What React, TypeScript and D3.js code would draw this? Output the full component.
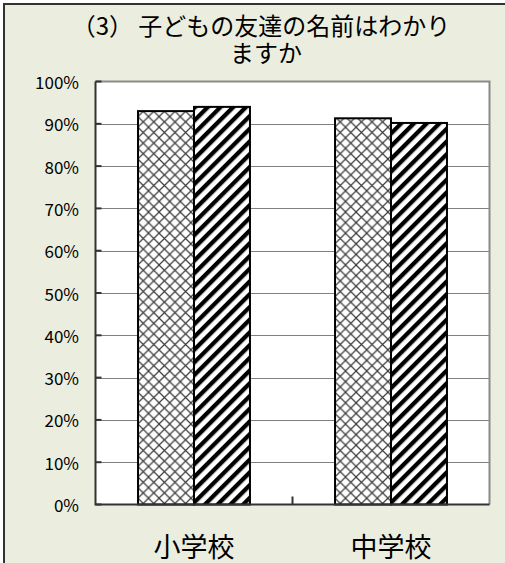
import React from 'react';
import * as d3 from 'd3';

const categories = ['小学校', '中学校'];
const seriesNames = ['A', 'B'];
const seriesA = [93, 91.3];
const seriesB = [94, 90.2];
const yTicks = [0, 10, 20, 30, 40, 50, 60, 70, 80, 90, 100];
const titleLines = ['（3） 子どもの友達の名前はわかり', 'ますか'];

const W = 505;
const H = 563;
const plot = { left: 95.5, right: 489.5, top: 81.5, bottom: 504.5 };
const BG = '#EBEEDF';
const JP = '"Noto Sans CJK JP", "Noto Sans", sans-serif';

export default function App() {
  const x = d3.scaleBand<string>()
    .domain(categories)
    .range([plot.left, plot.right])
    .paddingInner(0)
    .paddingOuter(0);

  // two bars of ~56px centred in each category slot
  const inner = d3.scaleBand<string>()
    .domain(seriesNames)
    .range([0, x.bandwidth()])
    .paddingOuter(0.76)
    .paddingInner(0);

  const y = d3.scaleLinear().domain([0, 100]).range([plot.bottom, plot.top]);

  const rows = categories.map((c, i) => ({ cat: c, values: [seriesA[i], seriesB[i]] }));
  const fills = ['url(#cross)', 'url(#diag)'];

  return (
    <svg
      width={W}
      height={H}
      viewBox={`0 0 ${W} ${H}`}
      style={{ position: 'absolute', left: 0, top: 0 }}
    >
      <defs>
        <pattern id="cross" width={10.6} height={10.6} patternUnits="userSpaceOnUse">
          <rect width={10.6} height={10.6} fill="#fff" />
          <path d="M0,0L10.6,10.6M0,10.6L10.6,0" stroke="#3a3a3a" strokeWidth={1.2} />
        </pattern>
        <pattern
          id="diag"
          width={9}
          height={9}
          patternUnits="userSpaceOnUse"
          patternTransform="rotate(45)"
        >
          <rect width={9} height={9} fill="#fff" />
          <rect width={4.3} height={9} fill="#000" />
        </pattern>
      </defs>

      <rect x={0} y={0} width={W} height={H} fill="#fff" />
      <rect x={4} y={4} width={W + 10} height={H + 10} fill={BG} stroke="#333" strokeWidth={2} />

      <text x={261} y={35} fontFamily={JP} fontSize={24} textAnchor="middle" fill="#000">
        {titleLines[0]}
      </text>
      <text x={266} y={62} fontFamily={JP} fontSize={24} textAnchor="middle" fill="#000">
        {titleLines[1]}
      </text>

      <rect
        x={plot.left}
        y={plot.top}
        width={plot.right - plot.left}
        height={plot.bottom - plot.top}
        fill="#fff"
      />

      {yTicks.slice(1, -1).map((t) => (
        <line
          key={t}
          x1={plot.left}
          x2={plot.right}
          y1={Math.round(y(t)) + 0.5}
          y2={Math.round(y(t)) + 0.5}
          stroke="#808080"
          strokeWidth={1}
        />
      ))}

      {/* frame: top/right gray, left/bottom dark */}
      <path
        d={`M${plot.left},${plot.top}H${plot.right}V${plot.bottom}`}
        fill="none"
        stroke="#8a8a8a"
        strokeWidth={2}
      />

      {rows.map((r) => (
        <g key={r.cat} transform={`translate(${x(r.cat)},0)`}>
          {r.values.map((v, j) => (
            <rect
              key={j}
              x={inner(seriesNames[j])}
              y={y(v)}
              width={inner.bandwidth()}
              height={y(0) - y(v)}
              fill={fills[j]}
              stroke="#000"
              strokeWidth={2}
            />
          ))}
        </g>
      ))}

      <path
        d={`M${plot.left},${plot.top}V${plot.bottom}H${plot.right}`}
        fill="none"
        stroke="#333"
        strokeWidth={2}
      />

      {yTicks.map((t) => (
        <g key={t}>
          <line x1={plot.left} x2={plot.left + 6} y1={y(t)} y2={y(t)} stroke="#333" strokeWidth={2} />
          <text
            x={79}
            y={y(t)}
            textAnchor="end"
            dominantBaseline="central"
            fontFamily={JP}
            fontSize={17}
            fill="#000"
          >
            {`${t}%`}
          </text>
        </g>
      ))}

      {categories.slice(1).map((c) => (
        <line
          key={c}
          x1={x(c)}
          x2={x(c)}
          y1={plot.bottom}
          y2={plot.bottom - 8}
          stroke="#333"
          strokeWidth={2}
        />
      ))}

      {categories.map((c) => (
        <text
          key={c}
          x={(x(c) ?? 0) + x.bandwidth() / 2}
          y={545}
          textAnchor="middle"
          dominantBaseline="central"
          fontFamily={JP}
          fontSize={27}
          fill="#000"
        >
          {c}
        </text>
      ))}
    </svg>
  );
}
